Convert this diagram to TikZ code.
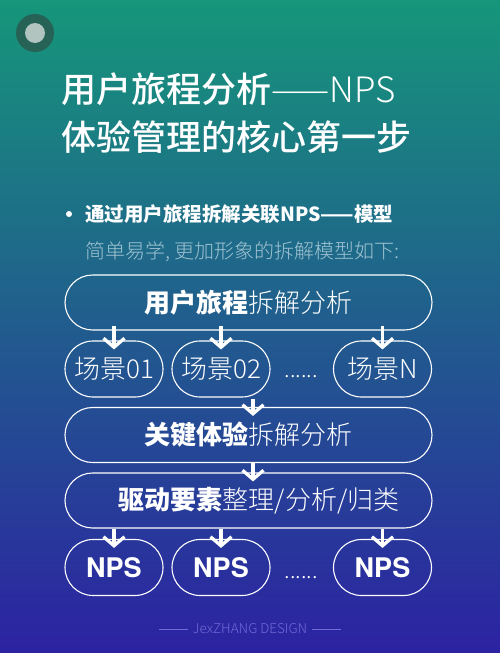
\documentclass[tikz,border=0pt]{standalone}
\usepackage{fontspec}
\usetikzlibrary{arrows.meta,positioning,shapes.misc,calc}
\setmainfont{Noto Sans CJK SC}
\IfFontExistsTF{Noto Sans CJK SC Light}
  {\newfontfamily\lightcjk{Noto Sans CJK SC Light}}
  {\newfontfamily\lightcjk{Noto Sans CJK SC}}
\IfFontExistsTF{Noto Sans CJK SC Medium}
  {\newfontfamily\midcjk{Noto Sans CJK SC Medium}}
  {\newfontfamily\midcjk{Noto Sans CJK SC}[FakeBold=1.5]}
\newfontfamily\heros{TeX Gyre Heros}
\newcommand{\fsz}[1]{\fontsize{#1}{#1}\selectfont}
\definecolor{topgreen}{RGB}{22,150,122}
\definecolor{midblue}{RGB}{30,88,164}
\definecolor{lowviolet}{RGB}{44,34,162}
\definecolor{subgray}{RGB}{160,195,210}
\definecolor{signcol}{RGB}{115,105,215}
\definecolor{badgeout}{RGB}{38,98,86}
\definecolor{badgein}{RGB}{178,196,192}

\begin{document}
\begin{tikzpicture}[x=1pt,y=-1pt,
  pill/.style={rounded rectangle,draw=white,line width=1.1pt,text=white,inner sep=0pt},
  wide/.style={pill,minimum width=367pt,minimum height=55pt,font=\fsz{26}},
  small/.style={pill,minimum width=98pt,minimum height=56pt},
  down/.style={white,line width=3.3pt,-{Straight Barb[length=9pt,width=21pt]},shorten >=-9pt},
  txt/.style={inner sep=0pt,text=white}]
\shade[top color=topgreen,middle color=midblue,bottom color=lowviolet] (0,0) rectangle (500,653);
% badge
\fill[badgeout] (35,33) circle (19pt);
\fill[badgein] (35,33) circle (10pt);
% heading
\begin{scope}[every node/.style={txt,anchor=west}]
\node[font=\midcjk\fsz{35}] (title1) at (61,89) {用户旅程分析{\lightcjk ——NPS}};
\node[font=\midcjk\fsz{35}] (title2) at (61,137) {体验管理的核心第一步};
\node[font=\bfseries\fsz{19.5}] (lead) at (85,214) {通过用户旅程拆解关联NPS——模型};
\node[font=\lightcjk\fsz{20},text=subgray] (sub) at (85,252) {简单易学, 更加形象的拆解模型如下:};
\end{scope}
\node[circle,fill=white,minimum size=6pt,inner sep=0pt] (dot) at (69,214) {};
% model
\begin{scope}
\node[wide] (journey) at (248.5,302.5) {{\bfseries 用户旅程}{\lightcjk 拆解分析}};
\node[small,font=\lightcjk\fsz{26}] (scene1) at (114,369) {场景01};
\node[small,font=\lightcjk\fsz{26}] (scene2) at (221,369) {场景02};
\node[small,font=\lightcjk\fsz{26}] (sceneN) at (382.5,369) {场景N};
\node[txt,font=\lightcjk\fsz{22}] (gap1) at (301,377) {......};
\node[wide] (moment) at (248.5,435) {{\bfseries 关键体验}{\lightcjk 拆解分析}};
\node[wide] (driver) at (248.5,500.5) {\hspace{21pt}{\bfseries 驱动要素}{\lightcjk 整理/分析/归类}};
\node[small,font=\heros\bfseries\fsz{27}] (nps1) at (114,567.5) {NPS};
\node[small,font=\heros\bfseries\fsz{27}] (nps2) at (221,567.5) {NPS};
\node[small,font=\heros\bfseries\fsz{27}] (npsN) at (382.5,567.5) {NPS};
\node[txt,font=\lightcjk\fsz{22}] (gap2) at (301,578) {......};
\coordinate (split) at (253,399);
\end{scope}
\begin{scope}
\draw[down,shorten <=-5pt] (journey.south -| scene1) -- (scene1.north);
\draw[down,shorten <=-5pt] (journey.south -| scene2) -- (scene2.north);
\draw[down,shorten <=-5pt] (journey.south -| sceneN) -- (sceneN.north);
\draw[down] (split) -- (split |- moment.north);
\draw[down] (moment.south -| split) -- (driver.north -| split);
\draw[down] (driver.south -| nps1) -- (nps1.north);
\draw[down] (driver.south -| nps2) -- (nps2.north);
\draw[down] (driver.south -| npsN) -- (npsN.north);
\end{scope}
% signature
\node[txt,text=signcol,font=\lightcjk\fsz{13.5}] (sign) at (250,629) {JexZHANG DESIGN};
\draw[signcol,line width=.8pt] (sign.west) ++(-5pt,0) -- ++(-29pt,0);
\draw[signcol,line width=.8pt] (sign.east) ++(5pt,0) -- ++(29pt,0);
\end{tikzpicture}
\end{document}
